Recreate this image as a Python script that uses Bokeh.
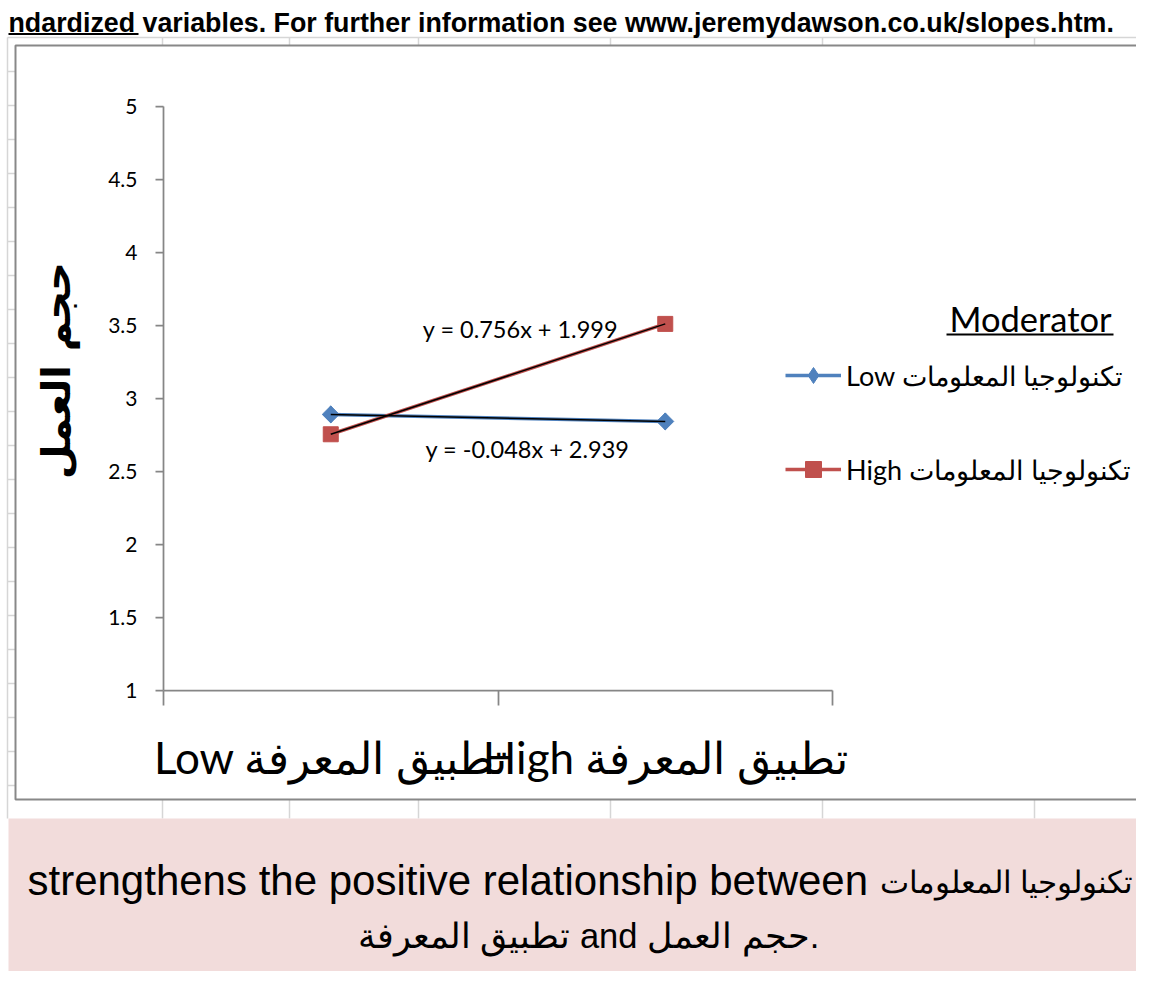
import numpy as np
from bokeh.plotting import figure
from bokeh.models import (Range1d, LinearAxis, FixedTicker, Label, Legend, LegendItem)
from bokeh.embed import file_html
from bokeh.resources import INLINE

# ---------------- data ----------------
iv_name = "تطبيق المعرفة"          # independent variable
dv_name = "حجم العمل"              # dependent variable
mod_name = "تكنولوجيا المعلومات"   # moderator
x_levels = ["Low", "High"]
x_tick_labels = ["Low " + iv_name, "High " + iv_name]
legend_labels = ["Low " + mod_name, "High " + mod_name]
low_mod_values = [2.891, 2.843]
high_mod_values = [2.755, 3.511]
trend_slopes = [-0.048, 0.756]
trend_intercepts = [2.939, 1.999]
trend_texts = ["y = -0.048x + 2.939", "y = 0.756x + 1.999"]
y_ticks = [1, 1.5, 2, 2.5, 3, 3.5, 4, 4.5, 5]
y_tick_labels = ["1", "1.5", "2", "2.5", "3", "3.5", "4", "4.5", "5"]
header_text = "ndardized variables. For further information see www.jeremydawson.co.uk/slopes.htm."
summary_en = "strengthens the positive relationship between"
summary_line2 = iv_name + " and " + dv_name + "."
legend_title = "Moderator"

BLUE = "#4F81BD"
RED = "#C0504D"
GRID = "#D6D6D6"
AXIS = "#868686"

# ---------------- canvas ----------------
W, H = 1136, 971
p = figure(width=W, height=H, x_range=Range1d(0, W), y_range=Range1d(H, 0),
           x_axis_type=None, y_axis_type=None, toolbar_location=None,
           output_backend="svg", min_border=0, outline_line_color=None,
           background_fill_color="white", border_fill_color="white")

# chart data coordinate system (through Bokeh scales)
ax_left, ax_right = 163, 832
ay_bottom, ay_top = 690, 106
n_cat = len(x_levels)
sx = (ax_right - ax_left) / n_cat
sy = (ay_bottom - ay_top) / (y_ticks[-1] - y_ticks[0])
p.extra_x_ranges = {"dx": Range1d((0 - ax_left) / sx, (W - ax_left) / sx)}
p.extra_y_ranges = {"dy": Range1d(y_ticks[0] + (ay_bottom - H) / sy,
                                  y_ticks[0] + (ay_bottom - 0) / sy)}

# ---------------- spreadsheet decoration ----------------
col_x = [162, 289, 418, 610, 822, 1034]
seg_x0, seg_y0, seg_x1, seg_y1 = [], [], [], []
seg_x0 += [7]; seg_y0 += [37]; seg_x1 += [1160]; seg_y1 += [37]
seg_x0 += [7]; seg_y0 += [37]; seg_x1 += [7]; seg_y1 += [818]
for cx in col_x:
    seg_x0 += [cx, cx]; seg_y0 += [37, 799]; seg_x1 += [cx, cx]; seg_y1 += [45, 818]
for k in range(1, 23):
    yy = 37 + 34 * k
    seg_x0 += [7]; seg_y0 += [yy]; seg_x1 += [15]; seg_y1 += [yy]
p.segment(seg_x0, seg_y0, seg_x1, seg_y1, line_color=GRID, line_width=1.5)

# pink note cell
p.quad(left=[8], right=[1160], top=[818], bottom=[1000], fill_color="#F2DCDB", line_color=None)
# chart area border
p.quad(left=[15], right=[1170], top=[45], bottom=[799], fill_color="white",
       line_color="#888888", line_width=2)

# header text
p.add_layout(Label(x=8, y=22, text=header_text, text_font="Liberation Sans", text_font_style="bold",
                   text_font_size="26.8px", text_align="left", text_baseline="middle", text_color="black"))
p.segment([8], [33.5], [138], [33.5], line_color="black", line_width=2)

# ---------------- data glyphs ----------------
x_pos = list(np.arange(n_cat) + 0.5)
low_line = p.line(x_pos, low_mod_values, line_color=BLUE, line_width=3.5,
                  x_range_name="dx", y_range_name="dy")
low_diam = p.scatter(x_pos, low_mod_values, marker="diamond", size=17,
                     fill_color=BLUE, line_color=BLUE, x_range_name="dx", y_range_name="dy")
low_pts = p.scatter(x_pos, low_mod_values, marker="square", angle=np.pi / 4, size=12,
                    fill_color=BLUE, line_color=BLUE, x_range_name="dx", y_range_name="dy")
high_line = p.line(x_pos, high_mod_values, line_color=RED, line_width=3.5,
                   x_range_name="dx", y_range_name="dy")
high_pts = p.scatter(x_pos, high_mod_values, marker="square", size=15,
                     fill_color=RED, line_color=RED, x_range_name="dx", y_range_name="dy")

# linear trendlines (Excel x = 1, 2 at category centres)
excel_x = np.arange(1, n_cat + 1)
for m, b in zip(trend_slopes, trend_intercepts):
    p.line(x_pos, list(m * excel_x + b), line_color="black", line_width=1.5,
           x_range_name="dx", y_range_name="dy")

# ---------------- axes ----------------
yaxis = LinearAxis(x_range_name="dx", y_range_name="dy", fixed_location=0, bounds=(1, 5),
                   ticker=FixedTicker(ticks=y_ticks),
                   major_label_overrides=dict(zip(y_ticks, y_tick_labels)),
                   axis_line_color=AXIS, axis_line_width=1.75,
                   major_tick_line_color=AXIS, major_tick_line_width=1.75,
                   major_tick_in=0, major_tick_out=8, minor_tick_line_color=None,
                   major_label_standoff=18, major_label_text_font="Lato",
                   major_label_text_font_size="21px", major_label_text_color="black")
p.add_layout(yaxis, "left")

xaxis = LinearAxis(x_range_name="dx", y_range_name="dy", fixed_location=1, bounds=(0, n_cat),
                   ticker=FixedTicker(ticks=list(range(n_cat + 1))),
                   major_label_overrides={i: "" for i in range(n_cat + 1)},
                   axis_line_color=AXIS, axis_line_width=1.75,
                   major_tick_line_color=AXIS, major_tick_line_width=1.75,
                   major_tick_in=0, major_tick_out=15, minor_tick_line_color=None)
p.add_layout(xaxis, "below")

xlab = LinearAxis(x_range_name="dx", y_range_name="dy", fixed_location=1,
                  ticker=FixedTicker(ticks=x_pos),
                  major_label_overrides=dict(zip(x_pos, x_tick_labels)),
                  axis_line_color=None, major_tick_line_color=None, minor_tick_line_color=None,
                  major_tick_out=0, major_tick_in=0,
                  major_label_standoff=40, major_label_text_font="Lato",
                  major_label_text_font_size="44px", major_label_text_color="black")
p.add_layout(xlab, "below")

# y axis title
p.add_layout(Label(x=55, y=370, text=dv_name, angle=np.pi / 2, text_font="DejaVu Sans",
                   text_font_style="bold", text_font_size="40px", text_align="center",
                   text_baseline="middle", text_color="black"))

# trendline equations
p.add_layout(Label(x=520, y=328, text=trend_texts[1], text_font="Lato", text_font_size="23.5px",
                   text_align="center", text_baseline="middle", text_color="black"))
p.add_layout(Label(x=527, y=448, text=trend_texts[0], text_font="Lato", text_font_size="23.5px",
                   text_align="center", text_baseline="middle", text_color="black"))

# ---------------- legend ----------------
p.add_layout(Label(x=1030, y=318, text=legend_title, text_font="Lato", text_font_size="34.5px",
                   text_align="center", text_baseline="middle", text_color="black"))
p.segment([946], [334], [1113], [334], line_color="black", line_width=2)

legend = Legend(items=[LegendItem(label=legend_labels[0], renderers=[low_line, low_diam]),
                       LegendItem(label=legend_labels[1], renderers=[high_line, high_pts])],
                location=(785, H - 489), orientation="vertical",
                glyph_width=56, glyph_height=40, label_height=40, spacing=54,
                label_standoff=5, padding=0, margin=0, border_line_color=None,
                background_fill_alpha=0, label_text_font="Lato", label_text_font_size="27px",
                label_text_color="black")
p.add_layout(legend)

# ---------------- note text ----------------
p.add_layout(Label(x=27, y=880, text=summary_en, text_font="Liberation Sans",
                   text_font_size="42px", text_align="left", text_baseline="middle",
                   text_color="black"))
p.add_layout(Label(x=879, y=882, text=mod_name, text_font="Liberation Sans",
                   text_font_size="31px", text_align="left", text_baseline="middle",
                   text_color="black"))
p.add_layout(Label(x=588, y=935, text=summary_line2, text_font="Liberation Sans",
                   text_font_size="34.5px", text_align="center", text_baseline="middle",
                   text_color="black"))

open("out.html", "w").write(file_html(p, INLINE))
